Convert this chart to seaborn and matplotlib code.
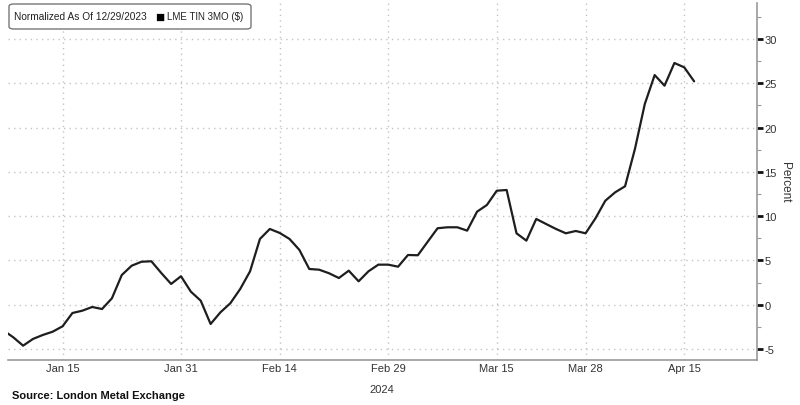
import matplotlib.pyplot as plt
import matplotlib.ticker as mticker
from matplotlib.patches import FancyBboxPatch
import seaborn as sns
import pandas as pd

# LME tin 3M, % change vs 12/29/2023, one value per LME trading day (Jan 5 .. Apr 16, 2024)
values = [
    -2.9, -3.68, -4.63, -3.87, -3.42, -3.05,                      # Jan 5-12
    -2.44, -0.94, -0.68, -0.26, -0.49,                            # Jan 15-19
    0.72, 3.35, 4.40, 4.85, 4.90,                                 # Jan 22-26
    3.58, 2.34, 3.21, 1.47, 0.45,                                 # Jan 29 - Feb 2
    -2.18, -0.86, 0.16, 1.77, 3.77,                               # Feb 5-9
    7.42, 8.55, 8.10, 7.42, 6.18,                                 # Feb 12-16
    4.03, 3.95, 3.55, 3.01, 3.84,                                 # Feb 19-23
    2.64, 3.77, 4.52, 4.52, 4.29,                                 # Feb 26 - Mar 1
    5.61, 5.58, 7.11, 8.63, 8.74,                                 # Mar 4-8
    8.74, 8.36, 10.50, 11.26, 12.87,                              # Mar 11-15
    12.95, 8.06, 7.23, 9.68, 9.11,                                # Mar 18-22
    8.55, 8.06, 8.32, 8.06,                                       # Mar 25-28
    9.75, 11.74, 12.69, 13.37,                                    # Apr 2-5
    17.58, 22.66, 25.93, 24.73, 27.29,                            # Apr 8-12
    26.80, 25.22,                                                 # Apr 15-16
]
holidays = ['2024-03-29', '2024-04-01']
major_dates = ['2024-01-15', '2024-01-31', '2024-02-14', '2024-02-29',
               '2024-03-15', '2024-03-28', '2024-04-15']
major_labels = ['Jan 15', 'Jan 31', 'Feb 14', 'Feb 29', 'Mar 15', 'Mar 28', 'Apr 15']
minor_dates = ['2024-01-22', '2024-02-07', '2024-02-21', '2024-03-08',
               '2024-03-22', '2024-04-08', '2024-04-22']

# trading calendar -> integer positions (gaps for weekends / holidays removed)
cal = pd.bdate_range('2024-01-05', '2024-04-30')
cal = cal[~cal.isin(pd.to_datetime(holidays))]
pos = {d: i for i, d in enumerate(cal)}

df = pd.DataFrame({'date': cal[:len(values)], 'pct': values})
df['x'] = range(len(df))

sns.set_theme(style="white")
plt.rcParams['font.family'] = ['Liberation Sans', 'DejaVu Sans']
plt.rcParams['axes.unicode_minus'] = False

fig = plt.figure(figsize=(8, 4.06), dpi=100)
ax = fig.add_axes([0.01, 0.111, 0.936, 0.879])

sns.lineplot(data=df, x='x', y='pct', color='#1e1e1e', linewidth=1.6, ax=ax)

ax.set_xlim(0.47, 76.35)
ax.set_ylim(-6.24, 34.06)

# x axis
ax.set_xticks([pos[pd.Timestamp(d)] for d in major_dates])
ax.set_xticklabels(major_labels)
ax.set_xticks([pos[pd.Timestamp(d)] for d in minor_dates], minor=True)
ax.tick_params(axis='x', which='both', direction='out', length=3, width=0.8,
               colors='#9a9a9a', labelcolor='#333333', labelsize=8, pad=-0.5)

# y axis on the right
ax.yaxis.tick_right()
ax.yaxis.set_label_position('right')
ax.yaxis.set_major_locator(mticker.MultipleLocator(5))
ax.yaxis.set_minor_locator(mticker.MultipleLocator(2.5))
ax.tick_params(axis='y', which='major', direction='out', length=4, width=2,
               colors='#111111', labelcolor='#333333', labelsize=8, pad=1.5)
ax.tick_params(axis='y', which='minor', direction='out', length=3, width=0.8,
               colors='#9a9a9a')
ax.set_ylabel('Percent', rotation=270, labelpad=10, fontsize=8.5, color='#333333')
ax.set_xlabel('')

ax.grid(True, which='major', color='#c4c4c4', linestyle=(0, (1, 3)), linewidth=1)

for side in ['top', 'left']:
    ax.spines[side].set_visible(False)
for side in ['bottom', 'right']:
    ax.spines[side].set_color('#9a9a9a')
    ax.spines[side].set_linewidth(1.2)

# year under the Feb 29 tick
ax.text(pos[pd.Timestamp('2024-02-29')] - 0.6, -0.068, '2024', transform=ax.get_xaxis_transform(),
        ha='center', va='top', fontsize=8, color='#333333')

# legend-like box
W, H = 800, 406
fig.patches.append(FancyBboxPatch((9 / W, 1 - 30 / H), 242 / W, 25 / H,
                                  boxstyle='round,pad=0,rounding_size=0.006',
                                  transform=fig.transFigure, fc='white', ec='#777777', lw=1))
fig.text(14 / W, 1 - 17.5 / H, 'Normalized As Of 12/29/2023', fontsize=7.3,
         color='#222222', va='center', ha='left')
fig.text(155 / W, 1 - 17.5 / H, '\u25A0', fontsize=11, color='#000000', va='center', ha='left')
fig.text(167 / W, 1 - 17.5 / H, 'LME TIN 3MO ($)', fontsize=7.0,
         color='#222222', va='center', ha='left')

fig.text(0.015, 0.025, 'Source: London Metal Exchange', fontsize=8, fontweight='bold',
         color='#111111', ha='left', va='center')

fig.savefig('out.png', dpi=100)
